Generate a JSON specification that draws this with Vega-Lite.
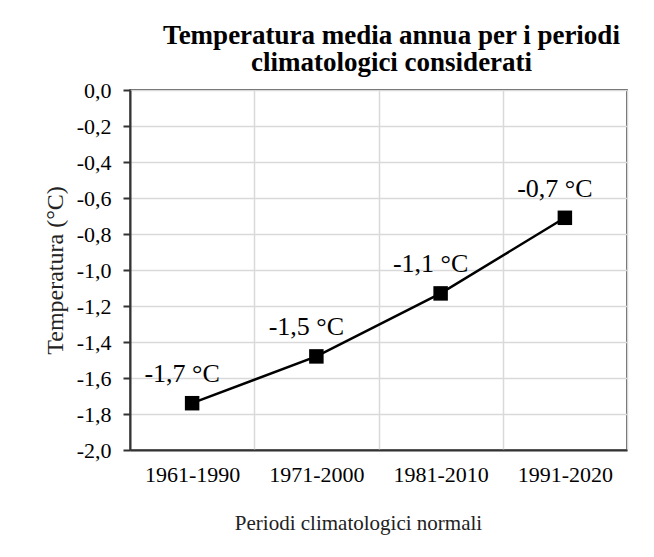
{
  "$schema": "https://vega.github.io/schema/vega-lite/v6.json",
  "width": 497,
  "height": 360,
  "autosize": {"type": "none"},
  "padding": {"left": 130, "top": 90, "right": 27, "bottom": 107},
  "background": "white",
  "title": {
    "text": ["Temperatura media annua per i periodi", "climatologici considerati"],
    "font": "Liberation Serif",
    "fontSize": 27,
    "fontWeight": "bold",
    "color": "black",
    "anchor": "middle",
    "frame": "group",
    "dx": 13,
    "lineHeight": 27,
    "offset": 2
  },
  "config": {
    "locale": {"number": {"decimal": ",", "thousands": ".", "grouping": [3], "currency": ["€", ""], "minus": "-"}},
    "view": {"stroke": "#222", "strokeWidth": 1.5},
    "axis": {
      "labelFont": "Liberation Serif",
      "titleFont": "Liberation Serif",
      "labelColor": "black",
      "titleColor": "#222",
      "domainColor": "#333",
      "domainWidth": 2,
      "tickColor": "#333",
      "tickWidth": 2,
      "gridColor": "#d9d9d9",
      "gridWidth": 1.5
    }
  },
  "data": {
    "values": [
      {"periodo": "1961-1990", "temperatura": -1.74, "etichetta": "-1,7 °C"},
      {"periodo": "1971-2000", "temperatura": -1.48, "etichetta": "-1,5 °C"},
      {"periodo": "1981-2010", "temperatura": -1.13, "etichetta": "-1,1 °C"},
      {"periodo": "1991-2020", "temperatura": -0.71, "etichetta": "-0,7 °C"}
    ]
  },
  "encoding": {
    "x": {
      "field": "periodo",
      "type": "nominal",
      "sort": null,
      "scale": {"type": "band", "paddingInner": 0, "paddingOuter": 0},
      "axis": {
        "title": "Periodi climatologici normali",
        "titleFontSize": 21,
        "titleFontWeight": "normal",
        "titlePadding": 27,
        "titleX": 228,
        "labelAngle": 0,
        "labelFontSize": 22,
        "labelPadding": 14,
        "ticks": false,
        "grid": true,
        "tickBand": "extent"
      }
    },
    "y": {
      "field": "temperatura",
      "type": "quantitative",
      "scale": {"domain": [-2, 0], "nice": false, "zero": false},
      "axis": {
        "title": "Temperatura (°C)",
        "titleFontSize": 24,
        "titleFontWeight": "normal",
        "titlePadding": 9,
        "values": [0, -0.2, -0.4, -0.6, -0.8, -1, -1.2, -1.4, -1.6, -1.8, -2],
        "format": ".1f",
        "labelFontSize": 22,
        "labelPadding": 12,
        "tickSize": 7,
        "grid": true
      }
    }
  },
  "layer": [
    {
      "mark": {
        "type": "line",
        "color": "black",
        "strokeWidth": 2.5,
        "point": {"shape": "square", "filled": true, "size": 210, "color": "black", "opacity": 1}
      }
    },
    {
      "mark": {
        "type": "text",
        "font": "Liberation Serif",
        "fontSize": 26,
        "color": "black",
        "align": "center",
        "baseline": "alphabetic",
        "dx": -10,
        "dy": -21
      },
      "encoding": {"text": {"field": "etichetta"}}
    }
  ]
}
